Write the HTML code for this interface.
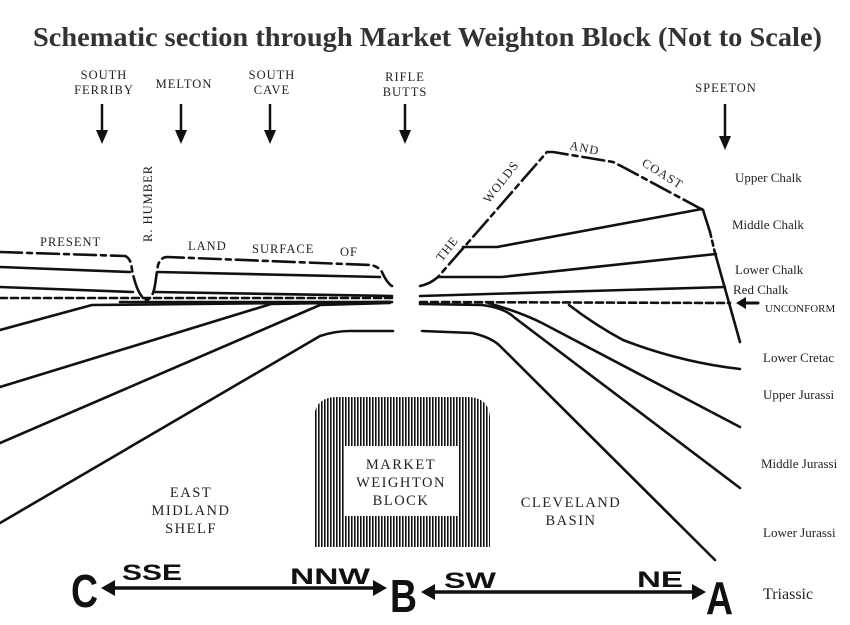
<!DOCTYPE html>
<html><head><meta charset="utf-8"><style>
html,body{margin:0;padding:0;background:#fff;}
svg{display:block;}
text{font-family:"Liberation Serif",serif;fill:#222;}
text.b{font-family:"Liberation Sans",sans-serif;font-weight:bold;fill:#111;}
</style></head><body>
<svg width="850" height="625" viewBox="0 0 850 625" xmlns="http://www.w3.org/2000/svg">
<defs>
<pattern id="hatch" width="3" height="10" patternUnits="userSpaceOnUse">
<rect x="0" y="0" width="1.6" height="10" fill="#111"/>
</pattern>
</defs>
<text x="33" y="46" font-size="27" font-weight="bold" textLength="789" lengthAdjust="spacingAndGlyphs" style="fill:#333">Schematic section through Market Weighton Block (Not to Scale)</text>

<g font-size="12.5" text-anchor="middle" letter-spacing="1">
<text x="104" y="79">SOUTH</text><text x="104" y="94">FERRIBY</text>
<text x="184" y="88">MELTON</text>
<text x="272" y="79">SOUTH</text><text x="272" y="94">CAVE</text>
<text x="405" y="81">RIFLE</text><text x="405" y="96">BUTTS</text>
<text x="726" y="92">SPEETON</text>
</g>
<g stroke="#111" stroke-width="2.5" fill="#111">
<line x1="102" y1="104" x2="102" y2="132"/><path d="M96,130 L108,130 L102,144 z" stroke="none"/>
<line x1="181" y1="104" x2="181" y2="132"/><path d="M175,130 L187,130 L181,144 z" stroke="none"/>
<line x1="270" y1="104" x2="270" y2="132"/><path d="M264,130 L276,130 L270,144 z" stroke="none"/>
<line x1="405" y1="104" x2="405" y2="132"/><path d="M399,130 L411,130 L405,144 z" stroke="none"/>
<line x1="725" y1="104" x2="725" y2="138"/><path d="M719,136 L731,136 L725,150 z" stroke="none"/>
</g>

<g stroke="#111" stroke-width="2.6" fill="none" stroke-linecap="round" stroke-linejoin="round">
<path d="M0,252 L125,256 Q131,258 132,270 Q138,298 147,300 Q153,298 155,285 L158,265 Q161,257 167,257 L370,265 Q378,266 382,272 Q387,283 392,286" stroke-dasharray="22,5,5,5"/>
<path d="M0,267 L130,272"/><path d="M158,272 L380,277"/>
<path d="M0,287 L133,292"/><path d="M155,292 L392,296"/>
<path d="M0,298 L392,298" stroke-dasharray="7,4"/>
<path d="M120,302 L392,302"/>
<path d="M0,330 L92,305 L390,302"/>
<path d="M0,387 L271,304 L390,302"/>
<path d="M0,443 L320,305 L390,303"/>
<path d="M0,523 L320,336 Q335,331 350,331 L393,331"/>
<path d="M420,286 Q430,284 438,277 L547,152 L553,152 L613,162 L623,167 L703,210" stroke-dasharray="22,5,5,5"/>
<path d="M703,210 L710,232"/><path d="M710,232 L715,253" stroke-dasharray="5,4"/><path d="M715,253 L740,342"/>
<path d="M463,247 L497,247 L702,209"/>
<path d="M438,277 L502,277 L716,254"/>
<path d="M420,296 L725,287"/>
<path d="M420,302 L730,303" stroke-dasharray="7,4"/>
<path d="M420,304 L482,305"/>
<path d="M422,331 L472,333 Q490,337 499,345 L715,560"/>
<path d="M482,305 Q505,308 515,318 L740,488"/>
<path d="M488,303 Q520,312 542,323 L740,427"/>
<path d="M569,305 Q595,325 623,340 Q680,362 740,369"/>
<path d="M758,303 L742,303" stroke-width="3"/>
</g>
<path d="M736,303 L746,297 L746,309 z" fill="#111"/>

<g font-size="12.5" letter-spacing="1">
<text x="40" y="246">PRESENT</text>
<text x="188" y="250">LAND</text>
<text x="252" y="253">SURFACE</text>
<text x="340" y="256">OF</text>
<text transform="translate(152,242) rotate(-90)">R. HUMBER</text>
<text transform="translate(442,262) rotate(-52)">THE</text>
<text transform="translate(489,204) rotate(-52)">WOLDS</text>
<text transform="translate(569,149) rotate(12)">AND</text>
<text transform="translate(641,165) rotate(32)">COAST</text>
</g>

<g font-size="13">
<text x="735" y="182">Upper Chalk</text>
<text x="732" y="229">Middle Chalk</text>
<text x="735" y="274">Lower Chalk</text>
<text x="733" y="294">Red Chalk</text>
<text x="765" y="312" font-size="11">UNCONFORM</text>
<text x="763" y="362">Lower Cretac</text>
<text x="763" y="399">Upper Jurassi</text>
<text x="761" y="468">Middle Jurassi</text>
<text x="763" y="537">Lower Jurassi</text>
<text x="763" y="599" font-size="16">Triassic</text>
</g>

<path d="M314,547 L314,420 Q314,397 337,397 L467,397 Q490,397 490,420 L490,547 z" fill="url(#hatch)"/>
<rect x="344" y="446" width="114" height="70" fill="#fff"/>
<g font-size="14.5" text-anchor="middle" letter-spacing="1.5">
<text x="401" y="469">MARKET</text>
<text x="401" y="487">WEIGHTON</text>
<text x="401" y="505">BLOCK</text>
<text x="191" y="497">EAST</text>
<text x="191" y="515">MIDLAND</text>
<text x="191" y="533">SHELF</text>
<text x="571" y="507">CLEVELAND</text>
<text x="571" y="525">BASIN</text>
</g>

<g stroke="#111" stroke-width="3.5" fill="none">
<line x1="110" y1="588" x2="378" y2="588"/>
<line x1="430" y1="592" x2="698" y2="592"/>
</g>
<g fill="#111">
<path d="M101,588 L115,580 L115,596 z"/><path d="M387,588 L373,580 L373,596 z"/>
<path d="M421,592 L435,584 L435,600 z"/><path d="M706,592 L692,584 L692,600 z"/>
</g>
<text class="b" x="71" y="607" font-size="46" textLength="27" lengthAdjust="spacingAndGlyphs">C</text>
<text class="b" x="390" y="612" font-size="46" textLength="27" lengthAdjust="spacingAndGlyphs">B</text>
<text class="b" x="706" y="614" font-size="46" textLength="27" lengthAdjust="spacingAndGlyphs">A</text>
<text class="b" x="122" y="580" font-size="22" textLength="60" lengthAdjust="spacingAndGlyphs">SSE</text>
<text class="b" x="290" y="584" font-size="22" textLength="80" lengthAdjust="spacingAndGlyphs">NNW</text>
<text class="b" x="444" y="588" font-size="22" textLength="52" lengthAdjust="spacingAndGlyphs">SW</text>
<text class="b" x="637" y="587" font-size="22" textLength="46" lengthAdjust="spacingAndGlyphs">NE</text>
</svg>
</body></html>
